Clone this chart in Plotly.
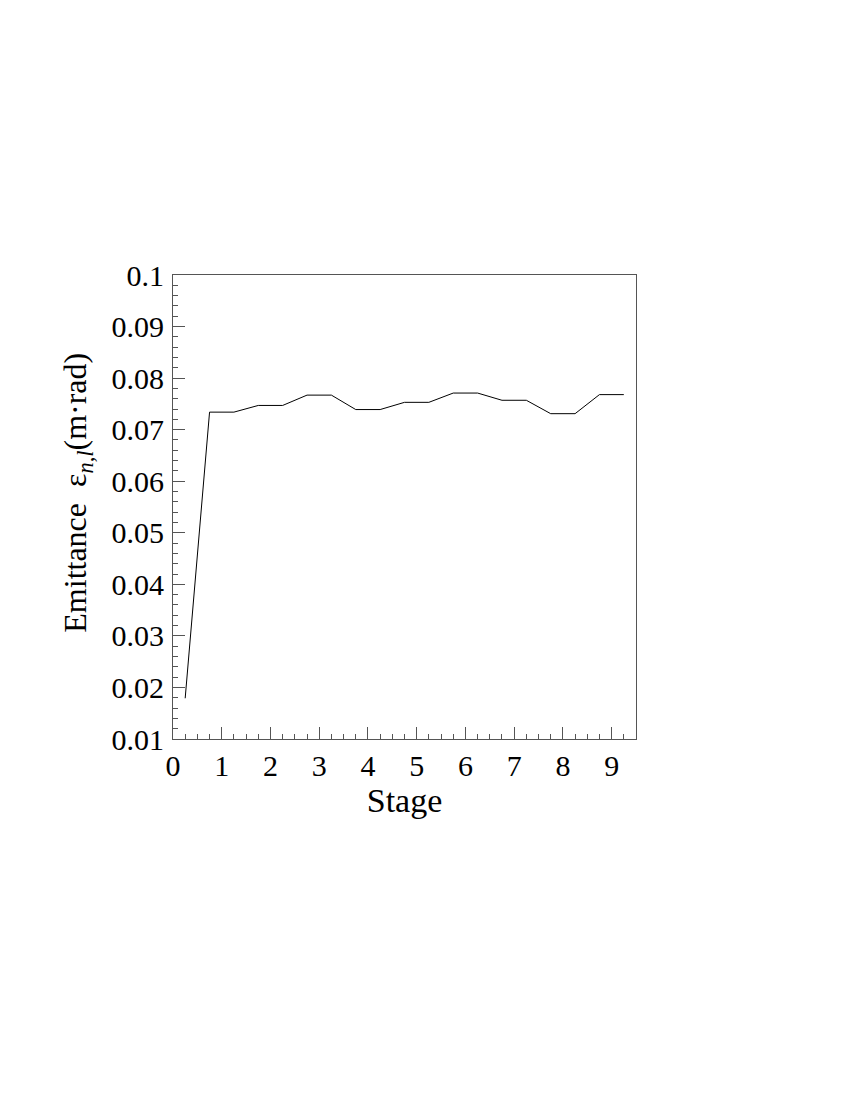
import plotly.graph_objects as go

# stage positions (half-stage offsets) and normalized emittance
stage = [0.25, 0.75, 1.25, 1.75, 2.25, 2.75, 3.25, 3.75, 4.25, 4.75,
         5.25, 5.75, 6.25, 6.75, 7.25, 7.75, 8.25, 8.75, 9.25]
emittance = [0.0179, 0.0734, 0.0734, 0.0747, 0.0747, 0.0767, 0.0767, 0.0739, 0.0739, 0.0753,
             0.0753, 0.0771, 0.0771, 0.0757, 0.0757, 0.0731, 0.0731, 0.0768, 0.0768]

x_ticks = list(range(0, 10))
y_ticks = [0.01, 0.02, 0.03, 0.04, 0.05, 0.06, 0.07, 0.08, 0.09, 0.1]
y_labels = ["0.01", "0.02", "0.03", "0.04", "0.05", "0.06", "0.07", "0.08", "0.09", "0.1"]

font_family = "Liberation Serif"
axis_color = "#555555"

fig = go.Figure()
fig.add_trace(go.Scatter(
    x=stage, y=emittance, mode="lines",
    line=dict(color="black", width=1),
    showlegend=False,
))

# page body adds an 8px offset, so margins are shifted to compensate
fig.update_layout(
    width=850, height=1100,
    paper_bgcolor="white", plot_bgcolor="white",
    margin=dict(l=165, r=222, t=267, b=369),
    font=dict(family=font_family, size=28, color="black"),
)

fig.update_xaxes(
    range=[0, 9.5],
    tickvals=x_ticks,
    ticks="inside", ticklen=12, tickwidth=1, tickcolor=axis_color,
    minor=dict(dtick=0.25, ticks="inside", ticklen=5, tickcolor=axis_color),
    showline=True, linecolor=axis_color, linewidth=1, mirror=True,
    showgrid=False, zeroline=False,
    title=dict(text="Stage", standoff=0),
    tickfont=dict(size=30),
)
fig.update_yaxes(
    range=[0.01, 0.1],
    tickvals=y_ticks, ticktext=y_labels,
    ticks="inside", ticklen=12, tickwidth=1, tickcolor=axis_color,
    minor=dict(dtick=0.002, ticks="inside", ticklen=5, tickcolor=axis_color),
    showline=True, linecolor=axis_color, linewidth=1, mirror=True,
    showgrid=False, zeroline=False,
    tickfont=dict(size=30),
    ticklabelstandoff=2,
)

fig.add_annotation(
    text="Emittance  ε<sub><i>n,l</i></sub>(m·rad)",
    xref="paper", yref="paper",
    x=-0.205, y=0.531,
    xanchor="center", yanchor="middle",
    textangle=-90, showarrow=False,
    font=dict(size=32),
)

fig.write_html("out.html")
